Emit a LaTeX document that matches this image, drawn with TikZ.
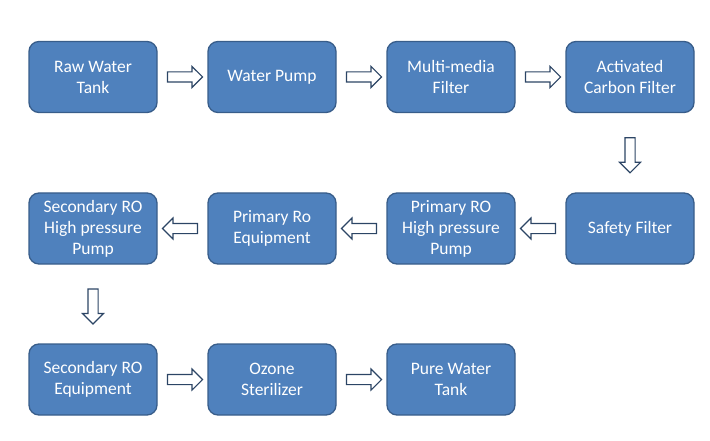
\documentclass[tikz,border=0pt]{standalone}
\usepackage{fontspec}
\setmainfont{Carlito}
\usetikzlibrary{shapes.arrows}

\definecolor{boxfill}{HTML}{4F81BD}
\definecolor{boxline}{HTML}{385D8A}
\definecolor{arrowline}{HTML}{2C4565}

\begin{document}
\begin{tikzpicture}[x=1pt, y=1pt,
    stage/.style={rectangle, rounded corners=10pt, fill=boxfill, draw=boxline, line width=1.3pt,
        minimum width=128pt, minimum height=71pt, text=white, align=center,
        font=\fontsize{17.5}{21}\selectfont},
    flow/.style={single arrow, draw=arrowline, fill=white, line width=1.1pt,
        inner xsep=0pt, inner ysep=4.5pt,
        minimum height=35pt, single arrow head extend=5.5pt,
        single arrow tip angle=90, sloped, allow upside down}]
    \useasboundingbox (0,0) rectangle (710,440);

    % First row
    \node[stage] (raw) at (93,363) {Raw Water\\Tank};
    \node[stage] (pump) at (272,363) {Water Pump};
    \node[stage] (media) at (451,363) {Multi-media\\Filter};
    \node[stage] (carbon) at (630,363) {Activated\\Carbon Filter};

    % Second row
    \node[stage] (safety) at (630,211.5) {Safety Filter};
    \node[stage] (hp1) at (451,211.5) {Primary RO\\High pressure\\Pump};
    \node[stage] (ro1) at (272,211.5) {Primary Ro\\Equipment};
    \node[stage] (hp2) at (93,211.5) {Secondary RO\\High pressure\\Pump};

    % Third row
    \node[stage] (ro2) at (93,60.5) {Secondary RO\\Equipment};
    \node[stage] (ozone) at (272,60.5) {Ozone\\Sterilizer};
    \node[stage] (pure) at (451,60.5) {Pure Water\\Tank};

    % Arrows
    \path (raw.east) -- (pump.west) node[midway, flow] (a1) {};
    \path (pump.east) -- (media.west) node[midway, flow] (a2) {};
    \path (media.east) -- (carbon.west) node[midway, flow] (a3) {};
    \path (carbon.south) -- (safety.north) node[midway, flow] (a4) {};
    \path (safety.west) -- (hp1.east) node[midway, flow] (a5) {};
    \path (hp1.west) -- (ro1.east) node[midway, flow] (a6) {};
    \path (ro1.west) -- (hp2.east) node[midway, flow] (a7) {};
    \path (hp2.south) -- (ro2.north) node[midway, flow] (a8) {};
    \path (ro2.east) -- (ozone.west) node[midway, flow] (a9) {};
    \path (ozone.east) -- (pure.west) node[midway, flow] (a10) {};
\end{tikzpicture}
\end{document}
